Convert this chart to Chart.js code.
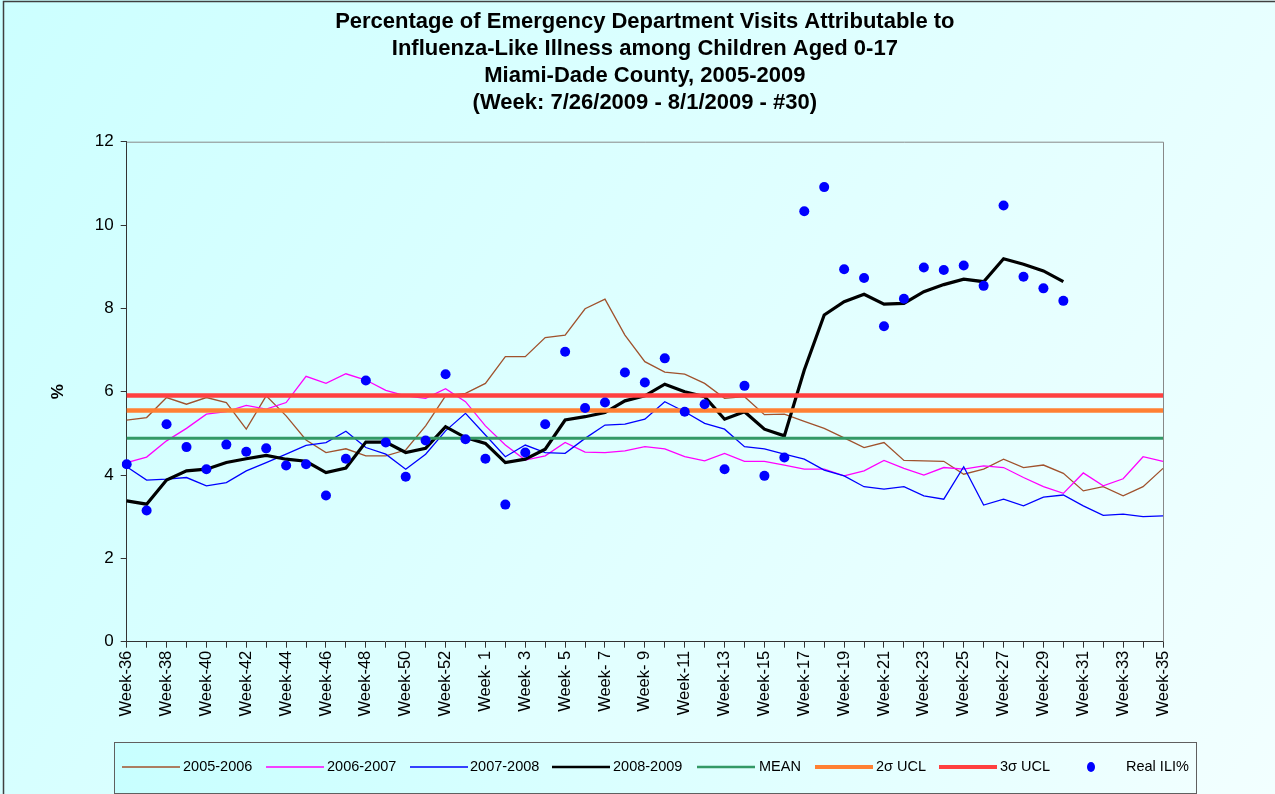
<!DOCTYPE html>
<html><head><meta charset="utf-8">
<script src="https://cdn.jsdelivr.net/npm/chart.js@4.4.1/dist/chart.umd.min.js"></script>
<style>html,body{margin:0;padding:0;background:#fff;overflow:hidden}canvas{display:block}</style>
</head><body>
<canvas id="c" width="1275" height="794"></canvas>
<script>
const categories = ['Week-36','Week-37','Week-38','Week-39','Week-40','Week-41','Week-42','Week-43','Week-44','Week-45','Week-46','Week-47','Week-48','Week-49','Week-50','Week-51','Week-52','Week-53',
  'Week- 1','Week- 2','Week- 3','Week- 4','Week- 5','Week- 6','Week- 7','Week- 8','Week- 9','Week-10','Week-11','Week-12','Week-13','Week-14','Week-15','Week-16','Week-17','Week-18','Week-19','Week-20',
  'Week-21','Week-22','Week-23','Week-24','Week-25','Week-26','Week-27','Week-28','Week-29','Week-30','Week-31','Week-32','Week-33','Week-34','Week-35'];

const season2005_2006 = [5.32,5.38,5.86,5.70,5.86,5.74,5.10,5.90,5.42,4.84,4.54,4.63,4.46,4.46,4.60,5.18,5.90,5.96,
  6.20,6.84,6.84,7.30,7.36,7.99,8.22,7.36,6.72,6.47,6.42,6.20,5.84,5.88,5.45,5.46,5.29,5.12,4.89,4.66,4.78,4.35,4.34,4.33,4.02,4.14,4.38,4.18,4.24,4.04,3.62,3.72,3.50,3.72,4.16];
const season2006_2007 = [4.30,4.43,4.82,5.12,5.46,5.52,5.67,5.58,5.74,6.37,6.20,6.43,6.28,6.03,5.90,5.84,6.07,5.76,
  5.18,4.72,4.36,4.46,4.78,4.55,4.54,4.58,4.68,4.63,4.44,4.34,4.52,4.33,4.33,4.24,4.14,4.14,3.98,4.10,4.35,4.16,4.00,4.18,4.14,4.22,4.18,3.94,3.72,3.56,4.05,3.74,3.91,4.44,4.33];
const season2007_2008 = [4.20,3.88,3.90,3.94,3.74,3.82,4.10,4.30,4.50,4.71,4.78,5.05,4.66,4.50,4.14,4.50,5.06,5.48,
  4.96,4.44,4.72,4.54,4.52,4.88,5.20,5.22,5.34,5.76,5.52,5.24,5.10,4.68,4.63,4.50,4.38,4.12,3.98,3.72,3.66,3.72,3.50,3.42,4.20,3.28,3.42,3.26,3.47,3.52,3.26,3.03,3.06,3.00,3.02];
const season2008_2009 = [3.38,3.30,3.88,4.10,4.14,4.30,4.39,4.47,4.38,4.33,4.06,4.17,4.79,4.79,4.54,4.64,5.16,4.90,
  4.76,4.30,4.38,4.62,5.32,5.40,5.50,5.78,5.90,6.18,6.00,5.88,5.34,5.52,5.10,4.94,6.52,7.84,8.16,8.34,8.10,8.12,8.40,8.57,8.70,8.64,9.19,9.06,8.90,8.64,null,null,null,null,null];
const realILI = [4.26,3.15,5.22,4.67,4.14,4.73,4.56,4.64,4.23,4.26,3.51,4.39,6.27,4.78,3.96,4.83,6.42,4.86,
  4.39,3.29,4.54,5.22,6.96,5.61,5.74,6.46,6.22,6.80,5.52,5.70,4.14,6.14,3.98,4.42,10.33,10.91,8.94,8.73,7.57,8.23,8.98,8.92,9.03,8.54,10.47,8.76,8.48,8.18,null,null,null,null,null];
const meanLevel = 4.88;
const ucl2Level = 5.55;
const ucl3Level = 5.91;
const yTicks = [0, 2, 4, 6, 8, 10, 12];
const titleLines = ['Percentage of Emergency Department Visits Attributable to','Influenza-Like Illness among Children Aged 0-17','Miami-Dade County, 2005-2009','(Week: 7/26/2009 - 8/1/2009 - #30)'];
const seriesNames = ['2005-2006','2006-2007','2007-2008','2008-2009','MEAN','2\u03C3 UCL','3\u03C3 UCL','Real ILI%'];

const FONT = "'Liberation Sans', Arial, sans-serif";
const colors = ['#A0522D','#FF00FF','#0000FF','#000000','#339966','#FF8033','#FF4040','#0000FF'];
const widths = [1.3,1.3,1.3,3.2,3,4.5,4.5,0];

const bgPlugin = {
  id: 'bg',
  beforeDraw(chart) {
    const ctx = chart.ctx, W = chart.width, H = chart.height;
    ctx.save();
    const g = ctx.createLinearGradient(0, 0, W, H);
    g.addColorStop(0, '#CCFFFF');
    g.addColorStop(1, '#F2FFFF');
    ctx.fillStyle = g;
    ctx.fillRect(0, 0, W, H);
    ctx.strokeStyle = '#404040';
    ctx.lineWidth = 1.5;
    ctx.beginPath();
    ctx.moveTo(3.5, H);
    ctx.lineTo(3.5, 1.5);
    ctx.lineTo(W, 1.5);
    ctx.stroke();
    ctx.restore();
  },
  beforeDatasetsDraw(chart) {
    const {ctx, chartArea: a} = chart;
    ctx.save();
    ctx.strokeStyle = '#888888';
    ctx.lineWidth = 1;
    ctx.beginPath();
    ctx.moveTo(a.left, a.top + 0.5);
    ctx.lineTo(a.right + 0.5, a.top + 0.5);
    ctx.lineTo(a.right + 0.5, a.bottom);
    ctx.stroke();
    ctx.restore();
  },
  afterDraw(chart) {
    const ctx = chart.ctx;
    ctx.save();
    const bx = 114.5, by = 742.5, bw = 1082, bh = 51;
    const g = ctx.createLinearGradient(bx, by, bx + bw, by + bh);
    g.addColorStop(0, '#C8FFFF');
    g.addColorStop(1, '#F0FFFF');
    ctx.fillStyle = g;
    ctx.fillRect(bx, by, bw, bh);
    ctx.strokeStyle = '#606060';
    ctx.lineWidth = 1;
    ctx.strokeRect(bx, by, bw, bh);
    const lineX = [122, 266, 410, 552, 697, 815, 939, 1086];
    const textX = [183, 327, 470, 613, 759, 876, 1000, 1126];
    const cy = 767;
    ctx.font = '14.5px ' + FONT;
    ctx.textBaseline = 'middle';
    ctx.textAlign = 'left';
    seriesNames.forEach((name, i) => {
      if (i < 7) {
        ctx.strokeStyle = colors[i];
        ctx.lineWidth = Math.max(widths[i] - 0.5, 1.3);
        ctx.beginPath();
        ctx.moveTo(lineX[i], cy);
        ctx.lineTo(lineX[i] + 58, cy);
        ctx.stroke();
      } else {
        ctx.fillStyle = colors[i];
        ctx.beginPath();
        ctx.ellipse(1091, cy, 4, 5, 0, 0, Math.PI * 2);
        ctx.fill();
      }
      ctx.fillStyle = '#000';
      ctx.fillText(name, textX[i], cy);
    });
    ctx.restore();
  }
};

const lineSeries = [season2005_2006, season2006_2007, season2007_2008, season2008_2009];
const datasets = [];
lineSeries.forEach((arr, i) => {
  datasets.push({label: seriesNames[i], data: arr, borderColor: colors[i], backgroundColor: colors[i],
    borderWidth: widths[i], pointRadius: 0, tension: 0, fill: false, spanGaps: false, order: 10 - i});
});
[meanLevel, ucl2Level, ucl3Level].forEach((lvl, k) => {
  const i = 4 + k;
  datasets.push({label: seriesNames[i], data: categories.map(() => lvl), borderColor: colors[i], backgroundColor: colors[i],
    borderWidth: widths[i], pointRadius: 0, tension: 0, fill: false, order: 10 - i, borderCapStyle: 'butt'});
});
datasets.push({label: seriesNames[7], data: realILI, showLine: false, pointRadius: 5, pointHoverRadius: 5,
  pointBackgroundColor: colors[7], pointBorderWidth: 0, borderColor: colors[7], backgroundColor: colors[7], order: 0});

new Chart(document.getElementById('c'), {
  type: 'line',
  data: {labels: categories, datasets},
  plugins: [bgPlugin],
  options: {
    responsive: false,
    devicePixelRatio: 1,
    animation: false,
    events: [],
    layout: {padding: {left: 40, right: 112, top: 0, bottom: 52.3}},
    plugins: {
      legend: {display: false},
      tooltip: {enabled: false},
      title: {
        display: true, fullSize: false, text: titleLines, color: '#000',
        font: {family: FONT, size: 22, weight: 'bold', lineHeight: 27 / 22},
        padding: {top: 8.5, bottom: 25.2}
      }
    },
    scales: {
      x: {
        type: 'category', offset: false,
        grid: {display: true, drawOnChartArea: false, drawTicks: true, tickLength: 6, color: '#333'},
        border: {display: true, color: '#333', width: 1},
        ticks: {autoSkip: false, maxRotation: 90, minRotation: 90, padding: 3, color: '#000',
          font: {family: FONT, size: 16.5},
          callback: (v, i) => (i % 2 === 0 ? categories[i] : '')},
        afterFit: s => { s.height = 100; }
      },
      y: {
        min: yTicks[0], max: yTicks[yTicks.length - 1],
        grid: {display: true, drawOnChartArea: false, drawTicks: true, tickLength: 6, color: '#333'},
        border: {display: true, color: '#333', width: 1},
        afterBuildTicks: s => { s.ticks = yTicks.map(v => ({value: v})); },
        ticks: {padding: 7, color: '#000', font: {family: FONT, size: 17}},
        title: {display: true, text: '%', color: '#000', font: {family: FONT, size: 17, weight: 'bold'}, padding: {top: 7.8, bottom: 0}},
        afterFit: s => { s.width = 86.7; }
      }
    }
  }
});
</script>
</body></html>
